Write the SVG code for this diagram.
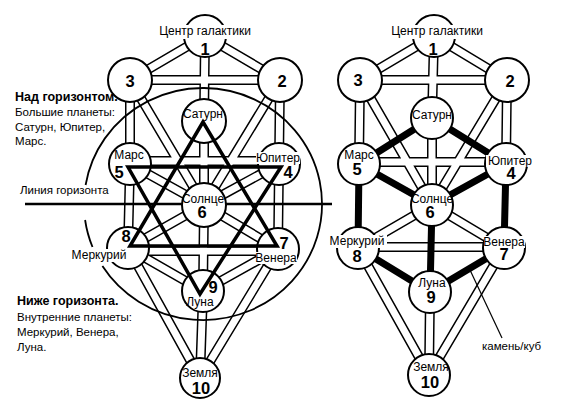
<svg xmlns="http://www.w3.org/2000/svg" width="565" height="400" viewBox="0 0 565 400">
<style>
.po{fill:none;stroke:#000;stroke-width:10}
.pi{fill:none;stroke:#fff;stroke-width:7}
.th{fill:none;stroke:#000;stroke-width:7}
.c{fill:#fff;stroke:#000;stroke-width:2}
.bg{fill:#fff}
.l{font-family:"Liberation Sans",Arial,sans-serif;font-size:12px;text-anchor:middle;fill:#000}
.n{font-family:"Liberation Sans",Arial,sans-serif;font-size:16.5px;font-weight:bold;text-anchor:middle;fill:#000}
.t{font-family:"Liberation Sans",Arial,sans-serif;font-size:11.5px;fill:#000}
.h{font-weight:bold;font-size:12.5px}
.star{fill:none;stroke:#000;stroke-width:3.5;stroke-linejoin:miter}
</style>
<rect width="565" height="400" fill="#fff"/>
<g id="connectors">
<path class="po" d="M205,36L130,80M205,36L280,80M205,36L204,121M130,80L280,80M130,80L130,164M280,80L279,164M130,80L204,205M280,80L204,205M204,121L204,205M130,161L279,161M130,164L204,205M279,164L204,205M130,164L128,248M279,164L278,249M204,205L128,248M204,205L278,249M204,205L203,291M128,251L278,251M128,248L203,291M278,249L203,291M203,291L200,378M128,248L200,378M278,249L200,378"/>
<path class="pi" d="M205,36L130,80M205,36L280,80M205,36L204,121M130,80L280,80M130,80L130,164M280,80L279,164M130,80L204,205M280,80L204,205M204,121L204,205M130,161L279,161M130,164L204,205M279,164L204,205M130,164L128,248M279,164L278,249M204,205L128,248M204,205L278,249M204,205L203,291M128,251L278,251M128,248L203,291M278,249L203,291M203,291L200,378M128,248L200,378M278,249L200,378"/>
<path class="po" d="M434,36L360,80M434,36L507,80M434,36L432,118M360,80L507,80M360,80L359,164M507,80L506,164M360,80L432,205M507,80L432,205M432,118L432,205M359,162L506,162M432,205L358,248M432,205L504,248M358,247L504,247M430,292L429,375M358,248L429,375M504,248L429,375"/>
<path class="pi" d="M434,36L360,80M434,36L507,80M434,36L432,118M360,80L507,80M360,80L359,164M507,80L506,164M360,80L432,205M507,80L432,205M432,118L432,205M359,162L506,162M432,205L358,248M432,205L504,248M358,247L504,247M430,292L429,375M358,248L429,375M504,248L429,375"/>
<path class="th" d="M432,118L359,164M432,118L506,164M359,164L432,205M506,164L432,205M432,205L430,292M359,164L358,248M506,164L504,248M358,248L430,292M504,248L430,292"/>
<path d="M470,270L502,338" fill="none" stroke="#000" stroke-width="1.2"/>
</g>
<g id="horizon">
<line x1="25" y1="204" x2="332" y2="204" stroke="#000" stroke-width="2.5"/>
<path d="M85.6,185A119,116 0 1 1 102.4,266M85.1,220A119,116 0 0 0 92.5,247" fill="none" stroke="#000" stroke-width="1.8"/>
</g>
<g id="left-tree">
<g id="L1"><circle class="c" cx="205" cy="36" r="21"/><rect class="bg" x="153" y="25" width="96" height="14"/><text class="l" x="205" y="35">Центр галактики</text><text class="n" x="205" y="55">1</text></g>
<g id="L3"><circle class="c" cx="130" cy="80" r="22"/><text class="n" x="130" y="87">3</text></g>
<g id="L2"><circle class="c" cx="280" cy="80" r="22"/><text class="n" x="282" y="87">2</text></g>
<g id="LSat"><circle class="c" cx="204" cy="121" r="22"/><text class="l" x="203" y="118">Сатурн</text></g>
<g id="L5"><circle class="c" cx="130" cy="164" r="21"/><text class="l" x="129" y="159">Марс</text><text class="n" x="119" y="178">5</text></g>
<g id="L4"><circle class="c" cx="279" cy="164" r="21"/><rect class="bg" x="256" y="152" width="44" height="12"/><text class="l" x="278" y="162">Юпитер</text><text class="n" x="288" y="178">4</text></g>
<g id="L6"><circle class="c" cx="204" cy="205" r="22"/><text class="l" x="203" y="203">Солнце</text><text class="n" x="202" y="218">6</text></g>
<g id="L8"><circle class="c" cx="128" cy="248" r="21"/><rect class="bg" x="70" y="249" width="59" height="13"/><text class="l" x="99" y="259">Меркурий</text><text class="n" x="126" y="242">8</text></g>
<g id="L7"><circle class="c" cx="278" cy="249" r="21"/><rect class="bg" x="256" y="252" width="41" height="12"/><text class="l" x="276" y="262">Венера</text><text class="n" x="284" y="249">7</text></g>
<g id="L9"><circle class="c" cx="203" cy="291" r="21"/><text class="l" x="200" y="306">Луна</text><text class="n" x="213" y="293">9</text></g>
<g id="L10"><circle class="c" cx="200" cy="378" r="20"/><text class="l" x="200" y="377">Земля</text><text class="n" x="201" y="394">10</text></g>
</g>
<g id="star">
<path class="star" d="M203,122L130,246L277,246Z"/>
<path class="star" d="M128,167L281,167L200,294Z"/>
</g>
<g id="right-tree">
<g id="R1"><circle class="c" cx="434" cy="36" r="21"/><rect class="bg" x="389" y="25" width="96" height="14"/><text class="l" x="437" y="35">Центр галактики</text><text class="n" x="433" y="55">1</text></g>
<g id="R3"><circle class="c" cx="360" cy="80" r="22"/><text class="n" x="358" y="86">3</text></g>
<g id="R2"><circle class="c" cx="507" cy="80" r="22"/><text class="n" x="510" y="87">2</text></g>
<g id="RSat"><circle class="c" cx="432" cy="118" r="21"/><text class="l" x="432" y="119">Сатурн</text></g>
<g id="R5"><circle class="c" cx="359" cy="164" r="21"/><text class="l" x="359" y="159">Марс</text><text class="n" x="357" y="175">5</text></g>
<g id="R4"><circle class="c" cx="506" cy="164" r="21"/><rect class="bg" x="486" y="155" width="48" height="12"/><text class="l" x="510" y="165">Юпитер</text><text class="n" x="511" y="179">4</text></g>
<g id="R6"><circle class="c" cx="432" cy="205" r="21"/><text class="l" x="432" y="203">Солнце</text><text class="n" x="430" y="218">6</text></g>
<g id="R8"><circle class="c" cx="358" cy="248" r="21"/><rect class="bg" x="328" y="235" width="59" height="13"/><text class="l" x="357" y="245">Меркурий</text><text class="n" x="357" y="262">8</text></g>
<g id="R7"><circle class="c" cx="504" cy="248" r="21"/><rect class="bg" x="484" y="236" width="41" height="12"/><text class="l" x="504" y="246">Венера</text><text class="n" x="504" y="260">7</text></g>
<g id="R9"><circle class="c" cx="430" cy="292" r="21"/><text class="l" x="432" y="287">Луна</text><text class="n" x="431" y="303">9</text></g>
<g id="R10"><circle class="c" cx="429" cy="375" r="21"/><text class="l" x="431" y="371">Земля</text><text class="n" x="430" y="388">10</text></g>
</g>
<g id="notes">
<text class="t" x="15" y="101"><tspan class="h">Над горизонтом.</tspan></text>
<text class="t" x="15" y="116">Большие планеты:</text>
<text class="t" x="15" y="131">Сатурн, Юпитер,</text>
<text class="t" x="15" y="145">Марс.</text>
<text class="t" x="20" y="194">Линия горизонта</text>
<text class="t" x="17" y="305"><tspan class="h">Ниже горизонта.</tspan></text>
<text class="t" x="17" y="321">Внутренние планеты:</text>
<text class="t" x="17" y="336">Меркурий, Венера,</text>
<text class="t" x="17" y="351">Луна.</text>
<text class="t" x="482" y="350">камень/куб</text>
</g>
</svg>
